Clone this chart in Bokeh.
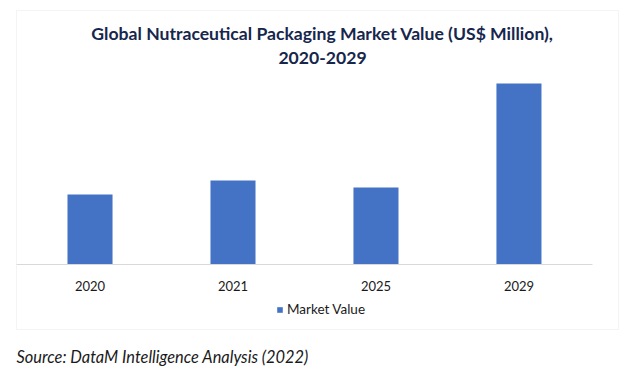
from bokeh.plotting import figure
from bokeh.models import (Range1d, BoxAnnotation, Label, Legend, LegendItem,
                          ColumnDataSource, FixedTicker)
from bokeh.embed import file_html
from bokeh.resources import INLINE

years = ["2020", "2021", "2025", "2029"]
market_value = [70, 84, 77, 181]
series_name = "Market Value"
title_line1 = "Global Nutraceutical Packaging Market Value (US$ Million),"
title_line2 = "2020-2029"
source_text = "Source: DataM Intelligence Analysis (2022)"

FONT = "Lato"
W, H = 643, 376
pos = list(range(len(years)))
src = ColumnDataSource(dict(x=pos, y=market_value, year=years))

p = figure(width=W, height=H, x_range=Range1d(-0.626, 3.871), y_range=Range1d(-112, 264),
           output_backend="svg", toolbar_location=None,
           min_border_left=0, min_border_right=0, min_border_top=0, min_border_bottom=0)
p.outline_line_color = None
p.background_fill_color = "white"
p.border_fill_color = "white"
p.grid.visible = False
p.yaxis.visible = False

r = p.vbar(x="x", top="y", width=0.315, source=src, fill_color="#4472C4", line_color=None)

ax = p.xaxis[0]
ax.fixed_location = 0
ax.bounds = (-0.514, 3.514)
ax.ticker = FixedTicker(ticks=pos)
ax.major_label_overrides = {i: y for i, y in zip(pos, years)}
ax.axis_line_color = "#D9D9D9"
ax.axis_line_width = 1
ax.major_tick_line_color = None
ax.minor_tick_line_color = None
ax.major_label_text_font = FONT
ax.major_label_text_font_size = "13px"
ax.major_label_text_color = "#1a1a1a"
ax.major_label_standoff = 10

legend = Legend(items=[LegendItem(label=series_name, renderers=[r])],
                orientation="horizontal", location=(276, 59),
                label_text_font=FONT, label_text_font_size="13.5px", label_text_color="#1a1a1a",
                glyph_width=7, glyph_height=7, label_standoff=4, padding=0, margin=0,
                border_line_color=None, background_fill_alpha=0)
p.add_layout(legend, "center")

box = BoxAnnotation(left=16, right=618, top=H - 10, bottom=H - 329,
                    left_units="screen", right_units="screen", top_units="screen", bottom_units="screen",
                    fill_alpha=0, line_color="#D9D9D9", line_width=1)
p.add_layout(box)

for txt, yy in [(title_line1, 33), (title_line2, 57)]:
    p.add_layout(Label(x=322, y=H - yy, x_units="screen", y_units="screen", text=txt,
                       text_font=FONT, text_font_style="bold", text_font_size="17.6px",
                       text_color="#16264C", text_align="center", text_baseline="middle"))

p.add_layout(Label(x=16, y=H - 356, x_units="screen", y_units="screen", text=source_text,
                   text_font=FONT, text_font_style="italic", text_font_size="16.4px",
                   text_color="#1a1a1a", text_align="left", text_baseline="middle"))

open("out.html", "w").write(file_html(p, INLINE))
